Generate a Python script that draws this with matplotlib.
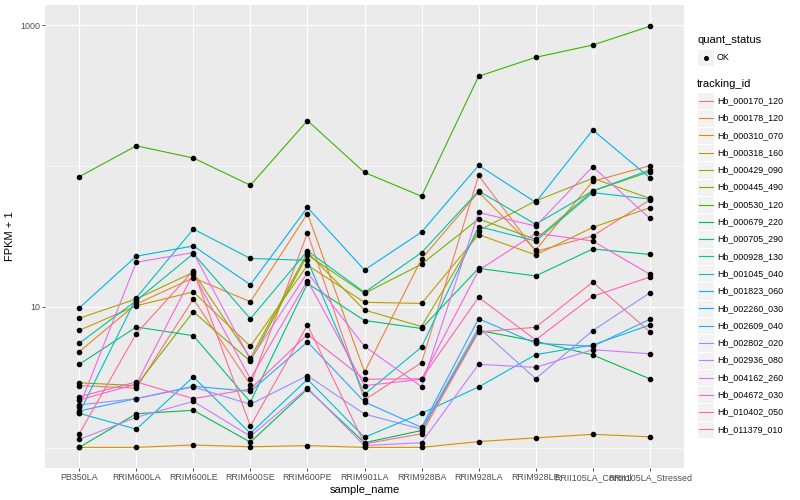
import numpy as np
import matplotlib.pyplot as plt
from matplotlib.patches import Rectangle
from matplotlib.ticker import FixedLocator, NullFormatter

plt.rcParams['font.family'] = ['Liberation Sans', 'DejaVu Sans']

# samples on the x axis
samples = ["PB350LA", "RRIM600LA", "RRIM600LE", "RRIM600SE", "RRIM600PE",
           "RRIM901LA", "RRIM928BA", "RRIM928LA", "RRIM928LE",
           "RRII105LA_Control", "RRII105LA_Stressed"]

tracking_ids = ["Hb_000170_120", "Hb_000178_120", "Hb_000310_070", "Hb_000318_160",
                "Hb_000429_090", "Hb_000445_490", "Hb_000530_120", "Hb_000679_220",
                "Hb_000705_290", "Hb_000928_130", "Hb_001045_040", "Hb_001823_060",
                "Hb_002260_030", "Hb_002609_040", "Hb_002802_020", "Hb_002936_080",
                "Hb_004162_260", "Hb_004672_030", "Hb_010402_050", "Hb_011379_010"]

# ggplot default hue palette for 20 levels
colors = ["#F8766D", "#EA8331", "#D89000", "#C09B00", "#A3A500", "#7CAE00",
          "#39B600", "#00BB4E", "#00BF7D", "#00C1A3", "#00BFC4", "#00BAE0",
          "#00B0F6", "#35A2FF", "#9590FF", "#C77CFF", "#E76BF3", "#FA62DB",
          "#FF62BC", "#FF6C91"]

# FPKM + 1 per gene
hb_000170_120 = [2.77, 2.66, 11.4, 2.81, 33.5, 2.19, 4.03, 85.7, 24.8, 31.9, 57.4]
hb_000178_120 = [4.82, 10.5, 16.1, 10.9, 46.0, 3.46, 21.9, 65.4, 25.4, 77.9, 100.5]
hb_000310_070 = [1.01, 1.01, 1.05, 1.02, 1.04, 1.01, 1.01, 1.11, 1.18, 1.25, 1.20]
hb_000318_160 = [6.83, 10.2, 12.8, 5.26, 19.8, 10.8, 10.6, 32.6, 23.4, 36.7, 50.6]
hb_000429_090 = [8.32, 11.4, 17.6, 4.35, 24.4, 9.52, 7.27, 34.8, 56.5, 81.8, 59.0]
hb_000445_490 = [2.90, 2.77, 9.26, 4.12, 23.4, 12.5, 20.1, 42.1, 30.2, 66.5, 91.1]
hb_000530_120 = [84, 139, 114, 73, 210, 90, 61, 433, 590, 721, 979]
hb_000679_220 = [1.01, 1.75, 1.85, 1.10, 2.62, 1.09, 1.33, 6.83, 5.71, 4.57, 3.09]
hb_000705_290 = [3.92, 7.21, 6.26, 2.12, 14.7, 8.02, 7.04, 18.8, 16.6, 25.8, 23.6]
hb_000928_130 = [5.53, 11.1, 23.9, 8.26, 25.0, 12.7, 24.3, 66.5, 38.6, 66.5, 93.7]
hb_001045_040 = [1.77, 11.6, 35.7, 22.1, 21.4, 2.40, 5.20, 37.2, 29.4, 64.7, 58.3]
hb_001823_060 = [1.76, 1.36, 3.19, 1.27, 3.07, 1.19, 1.76, 2.71, 4.59, 5.38, 7.45]
hb_002260_030 = [9.84, 22.9, 27.1, 14.4, 50.8, 18.3, 34.0, 101, 55.3, 180, 82.6]
hb_002609_040 = [1.83, 2.24, 2.74, 2.52, 5.65, 2.12, 1.40, 8.26, 5.53, 5.26, 8.18]
hb_002802_020 = [2.02, 2.24, 2.71, 2.04, 3.26, 1.74, 1.36, 7.16, 3.10, 6.79, 12.6]
hb_002936_080 = [1.15, 1.65, 2.14, 1.21, 2.66, 1.04, 1.09, 3.92, 3.73, 4.98, 4.66]
hb_004162_260 = [1.95, 20.8, 24.3, 4.23, 17.5, 5.26, 2.72, 46.8, 37.5, 98.9, 42.6]
hb_004672_030 = [2.19, 2.84, 17.2, 3.09, 15.4, 2.77, 3.07, 18.2, 33.3, 29.4, 17.1]
hb_010402_050 = [2.31, 2.94, 2.24, 2.62, 6.38, 3.07, 3.10, 11.7, 5.84, 11.9, 16.3]
hb_011379_010 = [1.26, 6.47, 18.1, 1.43, 7.45, 1.07, 1.26, 6.65, 7.18, 15.0, 6.68]

series = [hb_000170_120, hb_000178_120, hb_000310_070, hb_000318_160,
          hb_000429_090, hb_000445_490, hb_000530_120, hb_000679_220,
          hb_000705_290, hb_000928_130, hb_001045_040, hb_001823_060,
          hb_002260_030, hb_002609_040, hb_002802_020, hb_002936_080,
          hb_004162_260, hb_004672_030, hb_010402_050, hb_011379_010]

fig = plt.figure(figsize=(8, 5), dpi=100)
ax = fig.add_axes([45/800, 32/500, 639/800, 463/500])
ax.set_facecolor('#EBEBEB')

x = np.arange(len(samples))

# lines first, points on top
for vals, col in zip(series, colors):
    ax.plot(x, vals, color=col, lw=0.8, zorder=2)
for vals in series:
    ax.plot(x, vals, 'o', color='black', ms=3.0, zorder=3)

ax.set_yscale('log')
ax.set_ylim(10**-0.142, 10**3.142)
ax.set_xlim(-0.6, len(samples) - 0.4)

ax.set_xticks(x)
ax.set_xticklabels(samples)
ax.set_yticks([10, 1000])
ax.set_yticklabels(["10", "1000"])
ax.yaxis.set_minor_locator(FixedLocator([1, 100]))
ax.yaxis.set_minor_formatter(NullFormatter())

ax.grid(which='major', color='white', lw=0.8, zorder=0)
ax.grid(which='minor', axis='y', color='white', lw=0.4, zorder=0)
ax.set_axisbelow(True)
for s in ax.spines.values():
    s.set_visible(False)

ax.tick_params(axis='both', which='major', length=2, width=0.6, color='#333333',
               labelsize=6.4, labelcolor='#4D4D4D', pad=1.5)
ax.tick_params(axis='y', which='minor', length=0)

ax.set_xlabel("sample_name", fontsize=8, labelpad=2)
ax.set_ylabel("FPKM + 1", fontsize=8, labelpad=4)

# legend drawn ggplot style in pixel coordinates
lax = fig.add_axes([0, 0, 1, 1])
lax.set_xlim(0, 800)
lax.set_ylim(500, 0)
lax.axis('off')

lax.text(697, 40, "quant_status", fontsize=8, va='center', ha='left')
lax.add_patch(Rectangle((697, 49), 17.3, 17.3, facecolor='#F2F2F2', edgecolor='white', lw=0.8))
lax.plot([705.6], [57.6], 'o', color='black', ms=2.6)
lax.text(717, 57.6, "OK", fontsize=6.4, va='center', ha='left')

lax.text(697, 84, "tracking_id", fontsize=8, va='center', ha='left')
for i, (tid, col) in enumerate(zip(tracking_ids, colors)):
    yc = 100.7 + i * 17.3
    lax.add_patch(Rectangle((697, yc - 8.65), 17.3, 17.3, facecolor='#F2F2F2',
                            edgecolor='white', lw=0.8))
    lax.plot([698.5, 712.5], [yc, yc], color=col, lw=0.8)
    lax.text(717, yc, tid, fontsize=6.4, va='center', ha='left')

fig.savefig("out.png", dpi=100)
